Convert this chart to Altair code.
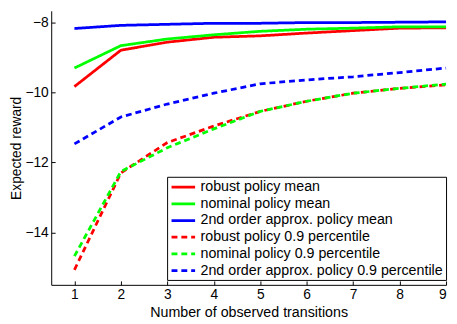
import altair as alt
import pandas as pd

x_vals = [1, 2, 3, 4, 5, 6, 7, 8, 9]
robust_mean = [-9.83, -8.79, -8.56, -8.42, -8.38, -8.30, -8.23, -8.16, -8.15]
nominal_mean = [-9.30, -8.66, -8.47, -8.35, -8.25, -8.19, -8.16, -8.12, -8.12]
approx_mean = [-8.17, -8.08, -8.05, -8.02, -8.02, -8.00, -8.00, -7.99, -7.98]
robust_p90 = [-15.07, -12.30, -11.43, -10.96, -10.54, -10.25, -10.02, -9.88, -9.78]
nominal_p90 = [-14.68, -12.26, -11.58, -11.04, -10.54, -10.25, -10.02, -9.88, -9.76]
approx_p90 = [-11.47, -10.70, -10.33, -10.02, -9.75, -9.64, -9.55, -9.43, -9.30]

names = [
    "robust policy mean",
    "nominal policy mean",
    "2nd order approx. policy mean",
    "robust policy 0.9 percentile",
    "nominal policy 0.9 percentile",
    "2nd order approx. policy 0.9 percentile",
]
series = [robust_mean, nominal_mean, approx_mean, robust_p90, nominal_p90, approx_p90]
colors = ["#ff0000", "#00ff00", "#0000ff", "#ff0000", "#00ff00", "#0000ff"]
dashes = [[1, 0], [1, 0], [1, 0], [6, 4], [6, 4], [6, 4]]

rows = []
for n, vals in zip(names, series):
    for xv, yv in zip(x_vals, vals):
        rows.append({"x": xv, "y": yv, "series": n})
df = pd.DataFrame(rows)

W, H = 402, 279
FONT = "Liberation Sans"

xs = alt.Scale(domain=[0.5, 9], nice=False, zero=False)
ys = alt.Scale(domain=[-15.5, -7.664], nice=False, zero=False)

lines = alt.Chart(df).mark_line(strokeWidth=2.8).encode(
    x=alt.X("x:Q", scale=xs,
            axis=alt.Axis(title="Number of observed transitions", values=x_vals,
                          ticks=False, grid=False, labelPadding=3, titlePadding=4)),
    y=alt.Y("y:Q", scale=ys,
            axis=alt.Axis(title="Expected reward", values=[-8, -10, -12, -14],
                          ticks=False, grid=False, labelPadding=3, titlePadding=2,
                          titleFontSize=14, format="d")),
    color=alt.Color("series:N", sort=names,
                    scale=alt.Scale(domain=names, range=colors),
                    legend=alt.Legend(title=None, orient="none", legendX=118, legendY=169,
                                      symbolType="M-1,0H3", symbolSize=144,
                                      symbolStrokeWidth=2.8, fillColor="white",
                                      strokeColor="black", padding=3, rowPadding=2,
                                      labelOffset=16, labelFontSize=14.5, labelFont=FONT,
                                      labelColor="black", cornerRadius=0,
                                      labelLimit=400)),
    strokeDash=alt.StrokeDash("series:N", sort=names,
                              scale=alt.Scale(domain=names, range=dashes),
                              legend=None),
    detail="series:N",
)

ticks = alt.Chart(df).mark_line(opacity=0).encode(
    x=alt.X("x:Q", scale=xs,
            axis=alt.Axis(orient="top", offset=-H, values=x_vals, labels=False,
                          domain=False, ticks=True, tickSize=4, grid=False, title=None)),
    y=alt.Y("y:Q", scale=ys,
            axis=alt.Axis(orient="right", offset=-W, values=[-8, -10, -12, -14],
                          labels=False, domain=False, ticks=True, tickSize=4,
                          grid=False, title=None)),
    detail="series:N",
)

chart = alt.layer(lines, ticks).resolve_axis(x="independent", y="independent").properties(
    width=W, height=H,
    autosize=alt.AutoSizeParams(type="none"),
    padding={"left": 44, "top": 0, "right": 3, "bottom": 37},
).configure_view(stroke=None).configure_axis(
    labelFont=FONT, titleFont=FONT, labelFontSize=14, titleFontSize=14.5,
    labelColor="black", titleColor="black", domainColor="black", tickColor="black",
    titleFontWeight="normal", domainWidth=1,
)

chart.save("out.html", embed_options={"renderer": "svg", "actions": False})
